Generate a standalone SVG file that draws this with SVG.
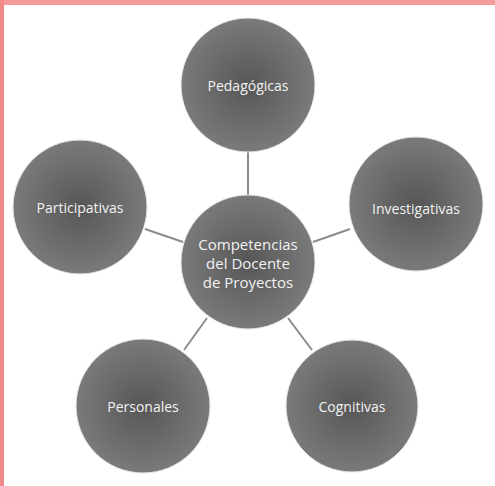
<svg xmlns="http://www.w3.org/2000/svg" width="495" height="486" viewBox="0 0 495 486">
<style>
.node circle{fill:url(#g);stroke:#e8e8e8;stroke-width:1}
.node text{font-family:"Open Sans","Noto Sans",sans-serif;font-size:14px;fill:#f2f2f2;text-anchor:middle;dominant-baseline:central}
.conn line{stroke:#8c8c8c;stroke-width:2}
</style>
<defs>
<radialGradient id="g" cx="0.5" cy="0.5" r="0.5">
<stop offset="0" stop-color="#565656"/>
<stop offset="1" stop-color="#7a7a7a"/>
</radialGradient>
</defs>
<rect x="0" y="0" width="495" height="486" fill="#fff"/>
<rect x="0" y="0" width="495" height="5" fill="#f49c9c"/>
<rect x="0" y="0" width="4" height="486" fill="#f28a8a"/>
<g id="connectors" class="conn">
<line x1="248" y1="152" x2="248" y2="196"/>
<line x1="145" y1="229" x2="183" y2="242"/>
<line x1="313" y1="242" x2="350" y2="229"/>
<line x1="207" y1="318" x2="184" y2="350"/>
<line x1="288" y1="318" x2="312" y2="350"/>
</g>
<g id="center" class="node"><circle cx="248" cy="262" r="67"/>
<text x="248" y="244" style="font-size:15px">Competencias</text>
<text x="248" y="263" style="font-size:15px">del Docente</text>
<text x="248" y="282" style="font-size:15px">de Proyectos</text></g>
<g id="pedagogicas" class="node"><circle cx="248" cy="85" r="67"/><text x="248" y="85">Pedagógicas</text></g>
<g id="investigativas" class="node"><circle cx="416" cy="204" r="67"/><text x="416" y="208">Investigativas</text></g>
<g id="participativas" class="node"><circle cx="80" cy="207" r="67"/><text x="80" y="207">Participativas</text></g>
<g id="personales" class="node"><circle cx="143" cy="406" r="67"/><text x="143" y="406">Personales</text></g>
<g id="cognitivas" class="node"><circle cx="352" cy="406" r="66"/><text x="352" y="406">Cognitivas</text></g>
</svg>
